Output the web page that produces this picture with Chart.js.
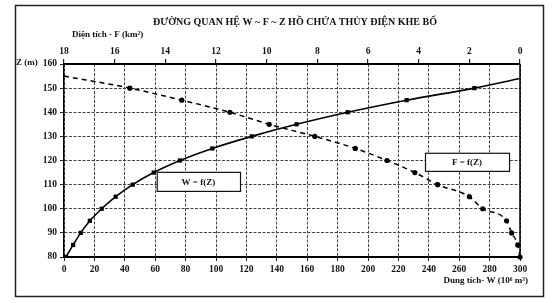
<!DOCTYPE html>
<html>
<head>
<meta charset="utf-8">
<script src="https://cdn.jsdelivr.net/npm/chart.js@4/dist/chart.umd.min.js"></script>
<style>
html,body{margin:0;padding:0;background:#fff;}
#wrap{width:553px;height:303px;}
</style>
</head>
<body>
<div id="wrap"><canvas id="c" width="553" height="303"></canvas></div>
<script>
// ---- data ----
const zTicks = [80, 90, 100, 110, 120, 130, 140, 150, 160];
const wTicks = [0, 20, 40, 60, 80, 100, 120, 140, 160, 180, 200, 220, 240, 260, 280, 300];
const fTicks = [0, 2, 4, 6, 8, 10, 12, 14, 16, 18];

// W = f(Z)  (volume, 10^6 m3)
const zW = [80, 85, 90, 95, 100, 105, 110, 115, 120, 125, 130, 135, 140, 145, 150, 154];
const volumeW = [1.3, 6.0, 11.0, 17.0, 24.8, 34.0, 45.2, 59.0, 76.3, 97.6, 123.5, 153.0, 186.6, 225.4, 270.0, 300.0];

// F = f(Z)  (area, km2)
const zF = [155, 150, 145, 140, 135, 130, 125, 120, 115, 110, 105, 100, 95, 90, 85, 80];
const areaF = [18.0, 15.4, 13.35, 11.45, 9.9, 8.1, 6.5, 5.25, 4.15, 3.25, 2.0, 1.47, 0.53, 0.33, 0.09, 0.0];

const titleText = 'ĐƯỜNG QUAN HỆ W ~ F ~ Z HỒ CHỨA THỦY ĐIỆN KHE BỐ';
const fAxisLabel = 'Diện tích - F (km²)';
const zAxisLabel = 'Z (m)';
const wAxisLabel = 'Dung tích- W (10⁶ m³)';
const wLegend = 'W = f(Z)';
const fLegend = 'F = f(Z)';

const SERIF = '"Liberation Serif", "Times New Roman", serif';
const tickFont = {family: SERIF, size: 9.5, weight: 'bold'};

function setTicks(arr){ return s => { s.ticks = arr.map(v => ({value: v})); }; }

const decor = {
  id: 'decor',
  afterDatasetsDraw(chart){
    const ctx = chart.ctx;
    const sx = chart.scales.x, sy = chart.scales.y;
    const a = chart.chartArea;
    ctx.save();
    // right frame of the plot area
    ctx.strokeStyle = '#000';
    ctx.lineWidth = 1.5;
    ctx.beginPath();
    ctx.moveTo(a.right, a.top);
    ctx.lineTo(a.right, a.bottom);
    ctx.stroke();
    // legend boxes placed in data coordinates
    function box(w0, w1, z0, z1, txt){
      const x0 = sx.getPixelForValue(w0), x1 = sx.getPixelForValue(w1);
      const y0 = sy.getPixelForValue(z0), y1 = sy.getPixelForValue(z1);
      ctx.fillStyle = '#fff';
      ctx.fillRect(x0, y0, x1 - x0, y1 - y0);
      ctx.strokeStyle = '#111';
      ctx.lineWidth = 1.2;
      ctx.strokeRect(x0 + 0.5, y0 + 0.5, x1 - x0, y1 - y0);
      ctx.fillStyle = '#111';
      ctx.font = 'bold 9px ' + SERIF;
      ctx.textAlign = 'center';
      ctx.textBaseline = 'middle';
      ctx.fillText(txt, (x0 + x1) / 2, (y0 + y1) / 2 + 1);
    }
    box(61, 115.8, 115.3, 107.4, wLegend);
    box(237.5, 292.8, 123.2, 115.7, fLegend);
    ctx.restore();
  },
  afterDraw(chart){
    const ctx = chart.ctx;
    ctx.save();
    ctx.fillStyle = '#111';
    ctx.textBaseline = 'middle';
    ctx.font = 'bold 10px ' + SERIF;
    ctx.textAlign = 'center';
    ctx.fillText(titleText, 295, 22);
    ctx.font = 'bold 9px ' + SERIF;
    ctx.textAlign = 'left';
    ctx.fillText(fAxisLabel, 72, 35);
    ctx.fillText(zAxisLabel, 16, 63);
    ctx.textAlign = 'right';
    ctx.fillText(wAxisLabel, 528, 281);
    // outer frame
    ctx.strokeStyle = '#222';
    ctx.lineWidth = 1.5;
    ctx.strokeRect(15.5, 5.5, 528, 291);
    ctx.restore();
  }
};

new Chart(document.getElementById('c'), {
  type: 'line',
  data: {
    datasets: [
      {
        label: 'W',
        data: zW.map((z, i) => ({x: volumeW[i], y: z})),
        xAxisID: 'x', yAxisID: 'y',
        borderColor: '#000', backgroundColor: '#000',
        borderWidth: 1.6,
        pointStyle: 'rect',
        pointRadius: c => (c.dataIndex === zW.length - 1 ? 0 : 3),
        pointBorderWidth: 0,
        cubicInterpolationMode: 'monotone',
        fill: false
      },
      {
        label: 'F',
        data: zF.map((z, i) => ({x: areaF[i], y: z})),
        xAxisID: 'x2', yAxisID: 'y',
        borderColor: '#000', backgroundColor: '#000',
        borderWidth: 1.5,
        borderDash: [5, 4],
        pointStyle: 'circle',
        pointRadius: c => (c.dataIndex === 0 ? 0 : 2.6),
        pointBorderWidth: 0,
        cubicInterpolationMode: 'monotone',
        fill: false,
        clip: 4
      }
    ]
  },
  options: {
    responsive: false,
    animation: false,
    devicePixelRatio: 1,
    layout: {padding: {left: 0, right: 33, top: 0, bottom: 0}},
    plugins: {legend: {display: false}, tooltip: {enabled: false}},
    scales: {
      x: {
        type: 'linear', position: 'bottom', min: 0, max: 300,
        afterBuildTicks: setTicks(wTicks),
        afterFit: s => { s.height = 46; },
        ticks: {font: tickFont, color: '#111', padding: 3, maxRotation: 0, autoSkip: false},
        grid: {color: '#444', lineWidth: 1, tickLength: 4, tickColor: '#222'},
        border: {color: '#000', width: 2, dash: [3, 1.5]}
      },
      x2: {
        type: 'linear', position: 'top', min: 0, max: 18, reverse: true,
        afterBuildTicks: setTicks(fTicks),
        afterFit: s => { s.height = 64; },
        ticks: {font: tickFont, color: '#111', padding: 2, maxRotation: 0, autoSkip: false},
        grid: {drawOnChartArea: false, color: '#222', lineWidth: 1.2, tickLength: 5},
        border: {color: '#000', width: 2}
      },
      y: {
        type: 'linear', position: 'left', min: 80, max: 160,
        afterBuildTicks: setTicks(zTicks),
        afterFit: s => { s.width = 64; },
        ticks: {font: tickFont, color: '#111', padding: 3, autoSkip: false},
        grid: {color: '#444', lineWidth: 1, tickLength: 4, tickColor: '#222'},
        border: {color: '#000', width: 1.5, dash: [3, 1.5]}
      }
    }
  },
  plugins: [decor]
});
</script>
</body>
</html>
